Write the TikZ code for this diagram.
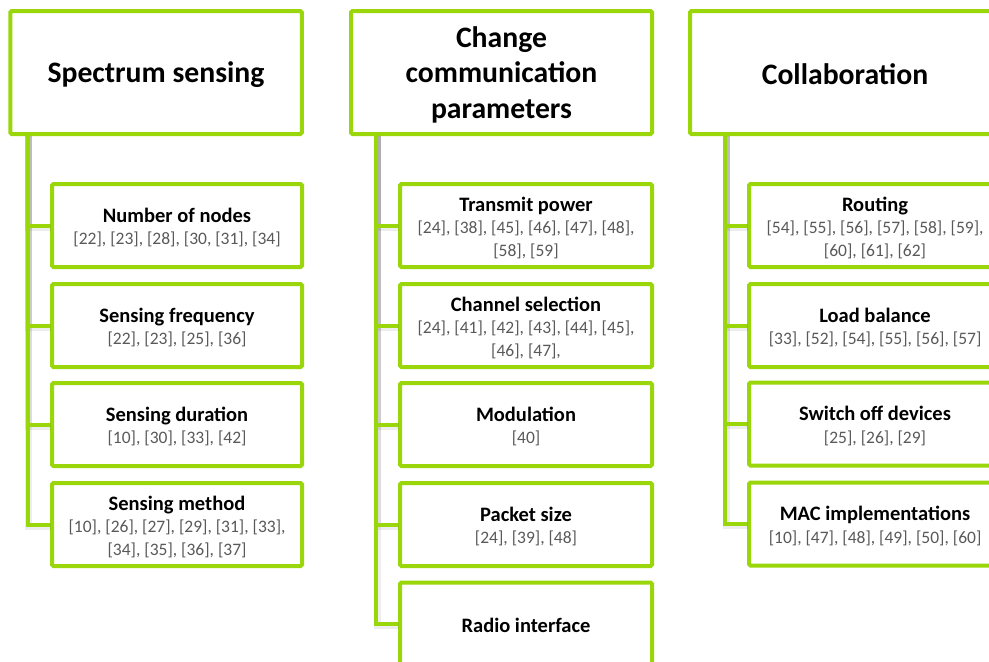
\documentclass[tikz,border=0pt]{standalone}
\usepackage{fontspec}
\setmainfont{Carlito}
\definecolor{leaf}{RGB}{153,215,10}
\definecolor{refgray}{RGB}{89,89,89}
\newcommand{\subhead}[1]{{\bfseries\fontsize{20.5}{22}\selectfont #1}}
\newcommand{\cites}[1]{{\color{refgray}#1}}
\tikzset{
  headbox/.style={draw=leaf, line width=4pt, fill=white, rounded corners=1.5pt,
    inner sep=0pt, minimum height=123pt},
  headtext/.style={align=center, inner sep=0pt,
    font=\bfseries\fontsize{29.7}{35.5}\selectfont},
  itembox/.style={draw=leaf, line width=4pt, fill=white, rounded corners=1.5pt,
    inner sep=0pt, minimum height=83pt},
  itemtext/.style={align=center, inner sep=0pt,
    font=\fontsize{17.5}{22.5}\selectfont},
  conn/.style={draw=leaf, line width=4pt},
  connshade/.style={draw=black, opacity=0.07, line width=7pt,
    transform canvas={shift={(1pt,-1.5pt)}}}
}
\begin{document}
\begin{tikzpicture}[x=1pt, y=-1pt]
\useasboundingbox (0,0) rectangle (989,662);
\clip (0,0) rectangle (989,662);
\fill[white] (0,0) rectangle (989,662);

% spine start points below each header
\coordinate (s1) at (27.5,134);
\coordinate (s2) at (376,134);
\coordinate (s3) at (725,134);

% column headers
\node[headbox, minimum width=291.5pt] (h1) at (156,72.5) {};
\node[headbox, minimum width=301pt] (h2) at (501.5,72.5) {};
\node[headbox, minimum width=310pt] (h3) at (845,72.5) {};

% item boxes
\begin{scope}[every node/.append style={itembox, minimum width=250pt}]
\node (a1) at (177,225.5) {};
\node (a2) at (177,325.5) {};
\node (a3) at (177,424.5) {};
\node (a4) at (177,524.5) {};
\end{scope}
\begin{scope}[every node/.append style={itembox, minimum width=252pt}]
\node (b1) at (526,225.5) {};
\node (b2) at (526,325.5) {};
\node (b3) at (526,424.5) {};
\node (b4) at (526,524.5) {};
\node (b5) at (526,624) {};
\node (c1) at (875,225.5) {};
\node (c2) at (875,325.5) {};
\node (c3) at (875,424) {};
\node (c4) at (875,524) {};
\end{scope}

% connectors from each spine to its items, with a soft shadow
\foreach \s/\list in {s1/{a1,a2,a3,a4}, s2/{b1,b2,b3,b4,b5}, s3/{c1,c2,c3,c4}}{
  \foreach \t in \list {
    \draw[connshade] (\s) |- (\t.west);
  }
}
\foreach \s/\list in {s1/{a1,a2,a3,a4}, s2/{b1,b2,b3,b4,b5}, s3/{c1,c2,c3,c4}}{
  \foreach \t in \list {
    \draw[conn] (\s) |- (\t.west);
  }
}

% header texts
\node[headtext] (h1t) at ([yshift=-2pt]h1.center) {Spectrum sensing};
\node[headtext] (h2t) at ([yshift=-2pt]h2.center) {Change\\communication\\parameters};
\node[headtext] (h3t) at ([yshift=-2pt]h3.center) {Collaboration};

% item texts
\begin{scope}[every node/.append style={itemtext}]
\node (a1t) at ([yshift=-2pt]a1.center) {\subhead{Number of nodes}\\ \cites{[22], [23], [28], [30, [31], [34]}};
\node (a2t) at ([yshift=-2pt]a2.center) {\subhead{Sensing frequency}\\ \cites{[22], [23], [25], [36]}};
\node (a3t) at ([yshift=-2pt]a3.center) {\subhead{Sensing duration}\\ \cites{[10], [30], [33], [42]}};
\node (a4t) at ([yshift=-2pt]a4.center) {\subhead{Sensing method}\\ \cites{[10], [26], [27], [29], [31], [33],}\\ \cites{[34], [35], [36], [37]}};

\node (b1t) at ([yshift=-2pt]b1.center) {\subhead{Transmit power}\\ \cites{[24], [38], [45], [46], [47], [48],}\\ \cites{[58], [59]}};
\node (b2t) at ([yshift=-2pt]b2.center) {\subhead{Channel selection}\\ \cites{[24], [41], [42], [43], [44], [45],}\\ \cites{[46], [47],}};
\node (b3t) at ([yshift=-2pt]b3.center) {\subhead{Modulation}\\ \cites{[40]}};
\node (b4t) at ([yshift=-2pt]b4.center) {\subhead{Packet size}\\ \cites{[24], [39], [48]}};
\node (b5t) at ([yshift=-1pt]b5.center) {\subhead{Radio interface}};

\node (c1t) at ([yshift=-2pt]c1.center) {\subhead{Routing}\\ \cites{[54], [55], [56], [57], [58], [59],}\\ \cites{[60], [61], [62]}};
\node (c2t) at ([yshift=-2pt]c2.center) {\subhead{Load balance}\\ \cites{[33], [52], [54], [55], [56], [57]}};
\node (c3t) at ([yshift=-2pt]c3.center) {\subhead{Switch off devices}\\ \cites{[25], [26], [29]}};
\node (c4t) at ([yshift=-2pt]c4.center) {\subhead{MAC implementations}\\ \cites{[10], [47], [48], [49], [50], [60]}};
\end{scope}
\end{tikzpicture}
\end{document}
